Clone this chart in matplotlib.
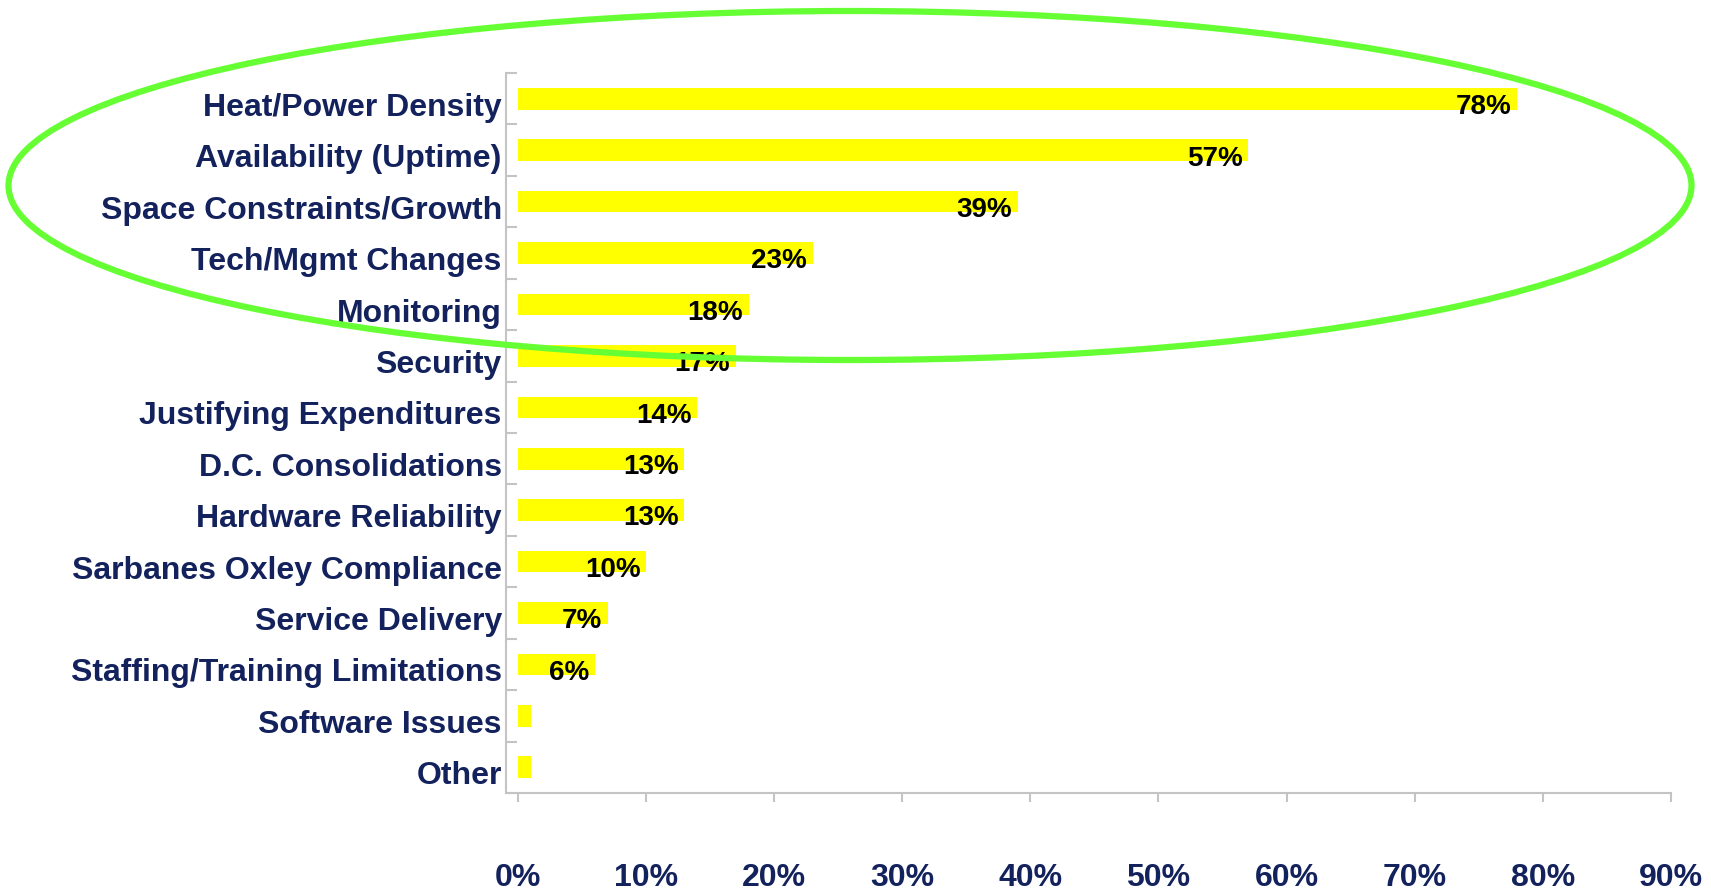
import matplotlib
matplotlib.use('Agg')
import matplotlib.pyplot as plt
import matplotlib.transforms as mtransforms
from matplotlib.patches import Ellipse
from matplotlib.ticker import FixedLocator

categories = ['Heat/Power Density', 'Availability (Uptime)', 'Space Constraints/Growth',
              'Tech/Mgmt Changes', 'Monitoring', 'Security', 'Justifying Expenditures',
              'D.C. Consolidations', 'Hardware Reliability', 'Sarbanes Oxley Compliance',
              'Service Delivery', 'Staffing/Training Limitations', 'Software Issues', 'Other']
values = [78, 57, 39, 23, 18, 17, 14, 13, 13, 10, 7, 6, 1, 1]
value_labels = ['78%', '57%', '39%', '23%', '18%', '17%', '14%', '13%', '13%',
                '10%', '7%', '6%', '', '']
x_ticks = [0, 10, 20, 30, 40, 50, 60, 70, 80, 90]
x_ticklabels = ['0%', '10%', '20%', '30%', '40%', '50%', '60%', '70%', '80%', '90%']

navy = '#13225c'
grey = '#c4c4c4'

plt.rcParams['font.family'] = ['Liberation Sans', 'DejaVu Sans']

fig = plt.figure(figsize=(17.11, 8.91), dpi=100, facecolor='white')
ax = fig.add_axes([0.2957, 0.110, 0.6808, 0.808])

pos = list(range(len(categories)))
ax.barh(pos, values, height=0.42, color='#ffff00', zorder=2)

# value labels inside the bar ends
for p, v, lab in zip(pos, values, value_labels):
    if lab:
        ax.annotate(lab, xy=(v, p), xytext=(-4, -6), textcoords='offset points',
                    ha='right', va='center', fontsize=20, fontweight='bold',
                    color='black', zorder=3)

ax.set_xlim(-0.94, 90)
ax.set_ylim(len(categories) - 0.5, -0.5)

ax.set_xticks(x_ticks)
ax.set_xticklabels(x_ticklabels, fontsize=23, fontweight='bold', color=navy)
ax.tick_params(axis='x', direction='out', length=6.5, width=1.5, color=grey, pad=44)

ax.set_yticks(pos)
ax.set_yticklabels(categories, fontsize=23, fontweight='bold', color=navy)
ax.tick_params(axis='y', which='major', length=0, pad=3)
ax.yaxis.set_minor_locator(FixedLocator([k - 0.5 for k in range(len(categories) + 1)]))
ax.tick_params(axis='y', which='minor', direction='in', length=8, width=1.5, color=grey)

# nudge category labels a little lower, as in the original
shift = mtransforms.ScaledTranslation(0, -4 / 72, fig.dpi_scale_trans)
for lbl in ax.get_yticklabels():
    lbl.set_transform(lbl.get_transform() + shift)

for side in ['top', 'right']:
    ax.spines[side].set_visible(False)
for side in ['left', 'bottom']:
    ax.spines[side].set_color(grey)
    ax.spines[side].set_linewidth(1.5)

# green highlight ring round the top categories
ring = Ellipse((850 / 1711, 1 - 185.5 / 891), 1683 / 1711, 349 / 891,
               transform=fig.transFigure, fill=False, edgecolor='#66ff33',
               linewidth=4.5, zorder=5)
fig.patches.append(ring)

fig.savefig('out.png', dpi=100, facecolor='white')
